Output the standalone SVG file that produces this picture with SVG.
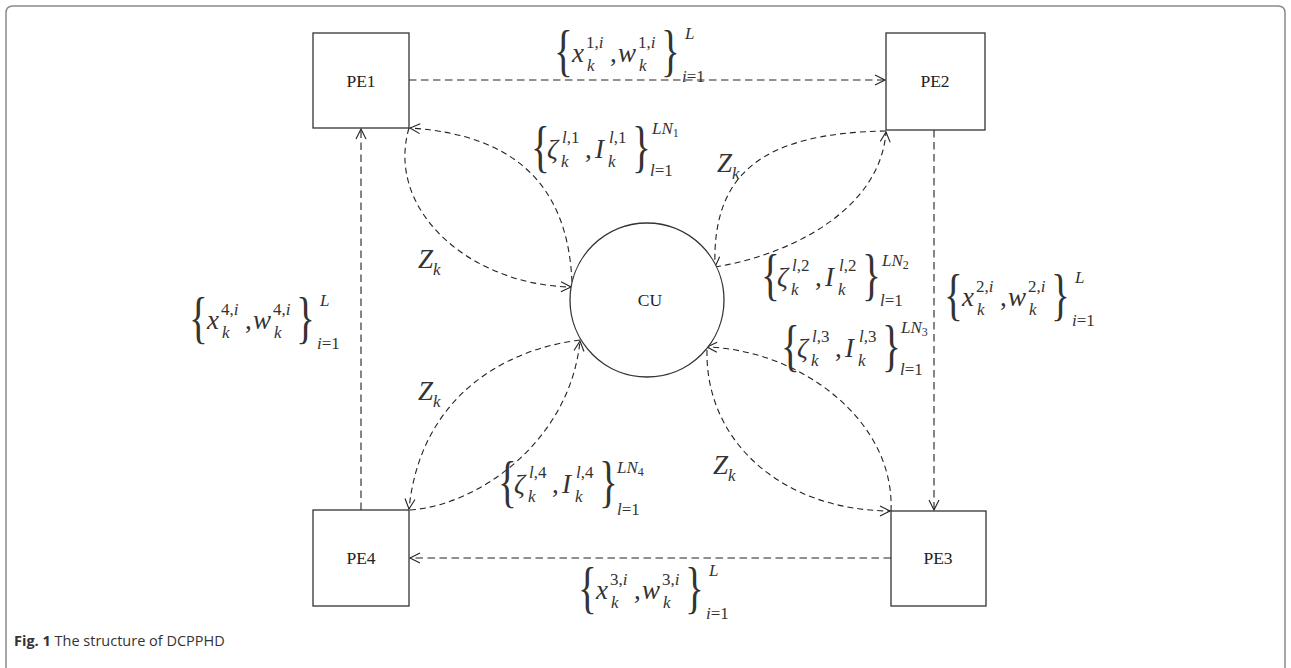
<svg xmlns="http://www.w3.org/2000/svg" width="1291" height="668" viewBox="0 0 1291 668">
<style>
.frame{fill:none;stroke:#8a8a8a;stroke-width:1.5}
.box{fill:#fff;stroke:#333;stroke-width:1.3}
.node{font-size:17.5px;fill:#222;text-anchor:middle}
.ln{fill:none;stroke:#222;stroke-width:1.1;stroke-dasharray:7.5 4.5}
.cv{fill:none;stroke:#222;stroke-width:1.1;stroke-dasharray:6 4}
.m{font-size:27px;fill:#333;font-style:italic}
.r{font-size:27px;fill:#333}
.s{font-size:17px;fill:#333}
.it{font-style:italic}
.ss{font-size:12px}
.br{font-size:56px;fill:#333}
.cap{font-size:14.5px;fill:#333}
</style>
<defs>
<marker id="ah" viewBox="-12 -7 14 14" refX="0" refY="0" markerWidth="14" markerHeight="14" markerUnits="userSpaceOnUse" orient="auto">
<path d="M-10,-5 L0,0 L-10,5" fill="none" stroke="#222" stroke-width="1.1" stroke-dasharray="none"/>
</marker>
</defs>

<path class="frame" d="M6,668 V13 Q6,6 13,6 H1278 Q1285,6 1285,13 V668"/>

<g id="connectors">
<path class="ln" d="M409,80 H885" marker-end="url(#ah)"/>
<path class="ln" d="M934,130 V510" marker-end="url(#ah)"/>
<path class="ln" d="M891,558 H410" marker-end="url(#ah)"/>
<path class="ln" d="M361,510 V129" marker-end="url(#ah)"/>
<path class="cv" d="M409,128 C385,210 470,285 571,287" marker-end="url(#ah)"/>
<path class="cv" d="M572,282 C568,190 520,135 410,128" marker-end="url(#ah)"/>
<path class="cv" d="M886,131 C760,133 712,175 715,267" marker-end="url(#ah)"/>
<path class="cv" d="M715,267 C790,255 880,210 886,132" marker-end="url(#ah)"/>
<path class="cv" d="M891,511 C895,420 800,350 707,347" marker-end="url(#ah)"/>
<path class="cv" d="M707,350 C705,440 780,510 890,511" marker-end="url(#ah)"/>
<path class="cv" d="M580,340 C500,350 420,400 409,509" marker-end="url(#ah)"/>
<path class="cv" d="M410,510 C480,505 570,440 580,341" marker-end="url(#ah)"/>
</g>

<g font-family="Liberation Serif, serif">
<g id="PE1"><rect class="box" x="313" y="33" width="96" height="95"/><text class="node" x="361" y="87">PE1</text></g>
<g id="PE2"><rect class="box" x="886" y="33" width="99" height="97"/><text class="node" x="935" y="87">PE2</text></g>
<g id="PE3"><rect class="box" x="891" y="511" width="95" height="95"/><text class="node" x="938" y="564">PE3</text></g>
<g id="PE4"><rect class="box" x="313" y="510" width="96" height="96"/><text class="node" x="361" y="564">PE4</text></g>
<g id="CU"><circle class="box" cx="647" cy="300" r="77"/><text class="node" x="650" y="306">CU</text></g>

<g id="label-x1" transform="translate(558,56)">
<text class="br" transform="translate(-4,14) scale(0.7,1)">{</text>
<text class="m" x="14" y="6">x</text>
<text class="s" x="28" y="-8">1,<tspan class="it">i</tspan></text>
<text class="s it" x="29" y="15">k</text>
<text class="r" x="52" y="6">,</text>
<text class="m" x="60" y="6">w</text>
<text class="s" x="80" y="-8">1,<tspan class="it">i</tspan></text>
<text class="s it" x="81" y="15">k</text>
<text class="br" transform="translate(103,14) scale(0.7,1)">}</text>
<text class="s it" x="127" y="-17">L</text>
<text class="s" x="124" y="26"><tspan class="it">i</tspan>=1</text>
</g>

<g id="label-x2" transform="translate(948,300)">
<text class="br" transform="translate(-4,14) scale(0.7,1)">{</text>
<text class="m" x="14" y="6">x</text>
<text class="s" x="28" y="-8">2,<tspan class="it">i</tspan></text>
<text class="s it" x="29" y="15">k</text>
<text class="r" x="52" y="6">,</text>
<text class="m" x="60" y="6">w</text>
<text class="s" x="80" y="-8">2,<tspan class="it">i</tspan></text>
<text class="s it" x="81" y="15">k</text>
<text class="br" transform="translate(103,14) scale(0.7,1)">}</text>
<text class="s it" x="127" y="-17">L</text>
<text class="s" x="124" y="26"><tspan class="it">i</tspan>=1</text>
</g>

<g id="label-x3" transform="translate(582,593)">
<text class="br" transform="translate(-4,14) scale(0.7,1)">{</text>
<text class="m" x="14" y="6">x</text>
<text class="s" x="28" y="-8">3,<tspan class="it">i</tspan></text>
<text class="s it" x="29" y="15">k</text>
<text class="r" x="52" y="6">,</text>
<text class="m" x="60" y="6">w</text>
<text class="s" x="80" y="-8">3,<tspan class="it">i</tspan></text>
<text class="s it" x="81" y="15">k</text>
<text class="br" transform="translate(103,14) scale(0.7,1)">}</text>
<text class="s it" x="127" y="-17">L</text>
<text class="s" x="124" y="26"><tspan class="it">i</tspan>=1</text>
</g>

<g id="label-x4" transform="translate(193,323)">
<text class="br" transform="translate(-4,14) scale(0.7,1)">{</text>
<text class="m" x="14" y="6">x</text>
<text class="s" x="28" y="-8">4,<tspan class="it">i</tspan></text>
<text class="s it" x="29" y="15">k</text>
<text class="r" x="52" y="6">,</text>
<text class="m" x="60" y="6">w</text>
<text class="s" x="80" y="-8">4,<tspan class="it">i</tspan></text>
<text class="s it" x="81" y="15">k</text>
<text class="br" transform="translate(103,14) scale(0.7,1)">}</text>
<text class="s it" x="127" y="-17">L</text>
<text class="s" x="124" y="26"><tspan class="it">i</tspan>=1</text>
</g>

<g id="label-z1" transform="translate(535,152)">
<text class="br" transform="translate(-4,14) scale(0.7,1)">{</text>
<text class="m" x="12" y="6">ζ</text>
<text class="s" x="27" y="-9"><tspan class="it">l</tspan>,1</text>
<text class="s it" x="26" y="15">k</text>
<text class="r" x="50" y="6">,</text>
<text class="m" x="60" y="6">I</text>
<text class="s" x="74" y="-9"><tspan class="it">l</tspan>,1</text>
<text class="s it" x="73" y="15">k</text>
<text class="br" transform="translate(97,14) scale(0.7,1)">}</text>
<text class="s" x="117" y="-18"><tspan class="it">LN</tspan><tspan class="ss" dy="3">1</tspan></text>
<text class="s" x="115" y="24"><tspan class="it">l</tspan>=1</text>
</g>

<g id="label-z2" transform="translate(765,280)">
<text class="br" transform="translate(-4,14) scale(0.7,1)">{</text>
<text class="m" x="12" y="6">ζ</text>
<text class="s" x="27" y="-9"><tspan class="it">l</tspan>,2</text>
<text class="s it" x="26" y="15">k</text>
<text class="r" x="50" y="6">,</text>
<text class="m" x="60" y="6">I</text>
<text class="s" x="74" y="-9"><tspan class="it">l</tspan>,2</text>
<text class="s it" x="73" y="15">k</text>
<text class="br" transform="translate(97,14) scale(0.7,1)">}</text>
<text class="s" x="117" y="-14"><tspan class="it">LN</tspan><tspan class="ss" dy="3">2</tspan></text>
<text class="s" x="115" y="26"><tspan class="it">l</tspan>=1</text>
</g>

<g id="label-z3" transform="translate(785,351)">
<text class="br" transform="translate(-4,14) scale(0.7,1)">{</text>
<text class="m" x="12" y="6">ζ</text>
<text class="s" x="27" y="-9"><tspan class="it">l</tspan>,3</text>
<text class="s it" x="26" y="15">k</text>
<text class="r" x="50" y="6">,</text>
<text class="m" x="60" y="6">I</text>
<text class="s" x="74" y="-9"><tspan class="it">l</tspan>,3</text>
<text class="s it" x="73" y="15">k</text>
<text class="br" transform="translate(97,14) scale(0.7,1)">}</text>
<text class="s" x="116" y="-18"><tspan class="it">LN</tspan><tspan class="ss" dy="3">3</tspan></text>
<text class="s" x="115" y="24"><tspan class="it">l</tspan>=1</text>
</g>

<g id="label-z4" transform="translate(502,487)">
<text class="br" transform="translate(-4,14) scale(0.7,1)">{</text>
<text class="m" x="12" y="6">ζ</text>
<text class="s" x="27" y="-9"><tspan class="it">l</tspan>,4</text>
<text class="s it" x="26" y="15">k</text>
<text class="r" x="50" y="6">,</text>
<text class="m" x="60" y="6">I</text>
<text class="s" x="74" y="-9"><tspan class="it">l</tspan>,4</text>
<text class="s it" x="73" y="15">k</text>
<text class="br" transform="translate(97,14) scale(0.7,1)">}</text>
<text class="s" x="115" y="-14"><tspan class="it">LN</tspan><tspan class="ss" dy="3">4</tspan></text>
<text class="s" x="115" y="28"><tspan class="it">l</tspan>=1</text>
</g>

<g id="label-Zk">
<text class="m" x="418" y="268" font-size="30">Z<tspan class="s it" font-size="19" dy="7">k</tspan></text>
<text class="m" x="717" y="172" font-size="30">Z<tspan class="s it" font-size="19" dy="7">k</tspan></text>
<text class="m" x="713" y="474" font-size="30">Z<tspan class="s it" font-size="19" dy="7">k</tspan></text>
<text class="m" x="418" y="400" font-size="30">Z<tspan class="s it" font-size="19" dy="7">k</tspan></text>
</g>
</g>

<text class="cap" font-family="Open Sans, sans-serif" x="14" y="646"><tspan font-weight="bold">Fig. 1</tspan> The structure of DCPPHD</text>
</svg>
